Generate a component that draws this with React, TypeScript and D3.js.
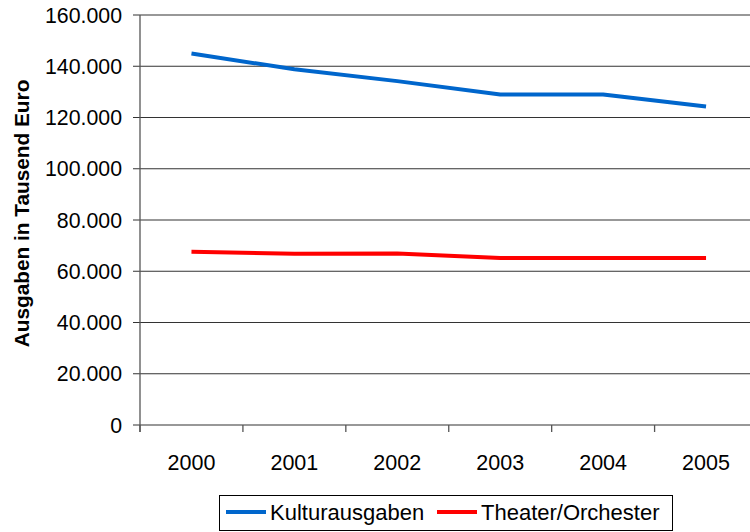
import React from "react";
import * as d3 from "d3";

const years = ["2000", "2001", "2002", "2003", "2004", "2005"];
const kulturausgaben = [145000, 138800, 134200, 129000, 129000, 124300];
const theaterOrchester = [67600, 66800, 66900, 65200, 65200, 65200];
const yTicks = [0, 20000, 40000, 60000, 80000, 100000, 120000, 140000, 160000];
const seriesNames = ["Kulturausgaben", "Theater/Orchester"];
const seriesColors = ["#0066CC", "#FF0000"];

const W = 750;
const H = 532;
const left = 140;
const right = 757.5;
const top = 15;
const bottom = 425;

const fmt = (v: number) => (v === 0 ? "0" : d3.format(",")(v).replace(/,/g, "."));

export default function App() {
  const x = d3.scaleBand<string>().domain(years).range([left, right]);
  const y = d3.scaleLinear().domain([0, 160000]).range([bottom, top]);
  const line = d3
    .line<number>()
    .x((_, i) => (x(years[i]) as number) + x.bandwidth() / 2)
    .y((d) => y(d));
  const font = "Liberation Sans, Arial, sans-serif";
  const data = [kulturausgaben, theaterOrchester];
  const tickXs = years.map((yr) => x(yr) as number).concat([right]);
  return (
    <svg
      width={W}
      height={H}
      style={{ position: "absolute", left: 0, top: 0, background: "#fff" }}
      fontFamily={font}
    >
      {yTicks.map((t) => (
        <g key={t}>
          <line x1={133} x2={W} y1={y(t)} y2={y(t)} stroke="#333" strokeWidth={1.2} />
          <text x={122} y={y(t)} dy="0.36em" textAnchor="end" fontSize={21.3} fill="#000">
            {fmt(t)}
          </text>
        </g>
      ))}
      <line x1={left} x2={left} y1={top} y2={bottom + 7} stroke="#555" strokeWidth={1.3} />
      {tickXs.map((tx, i) => (
        <line key={i} x1={tx} x2={tx} y1={bottom} y2={bottom + 7} stroke="#555" strokeWidth={1.3} />
      ))}
      {years.map((yr) => (
        <text
          key={yr}
          x={(x(yr) as number) + x.bandwidth() / 2}
          y={470}
          textAnchor="middle"
          fontSize={21.5}
          fill="#000"
        >
          {yr}
        </text>
      ))}
      <text
        transform={`translate(29,${213.5}) rotate(-90)`}
        textAnchor="middle"
        fontSize={20.8}
        fontWeight="bold"
        fill="#000"
      >
        Ausgaben in Tausend Euro
      </text>
      {data.map((s, i) => (
        <path
          key={i}
          d={line(s) as string}
          fill="none"
          stroke={seriesColors[i]}
          strokeWidth={4}
          strokeLinejoin="round"
        />
      ))}
      <rect x={219.5} y={495.5} width={453} height={35} fill="#fff" stroke="#000" strokeWidth={1} />
      {seriesNames.map((n, i) => {
        const lx = i === 0 ? 226 : 437;
        return (
          <g key={n}>
            <line x1={lx} x2={lx + 40} y1={512} y2={512} stroke={seriesColors[i]} strokeWidth={4} />
            <text x={lx + 44} y={520} fontSize={22} fill="#000">
              {n}
            </text>
          </g>
        );
      })}
    </svg>
  );
}
